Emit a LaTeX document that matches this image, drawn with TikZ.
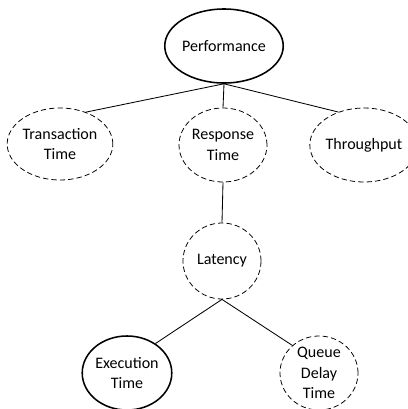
\documentclass[tikz,border=0pt]{standalone}
\usepackage{fontspec}
\setmainfont{Carlito}
\usepackage{tikz}
\usetikzlibrary{shapes.geometric}

\begin{document}
\begin{tikzpicture}[x=0.025cm, y=-0.025cm,
  % solid outlined ellipses
  solidnode/.style={draw, ellipse, line width=1.1pt, inner sep=0pt,
                    align=center, font=\fontsize{11.4}{14.5}\selectfont},
  % dashed outlined ellipses
  dashnode/.style={draw, ellipse, dashed, dash pattern=on 3.8pt off 2.2pt,
                   line width=0.55pt, inner sep=0pt,
                   align=center, font=\fontsize{11.4}{14.5}\selectfont},
  link/.style={line width=0.6pt}
]
  \useasboundingbox (0,0) rectangle (408,409);

  % Top level
  \node[solidnode, minimum width=2.9cm, minimum height=1.85cm] (perf) at (224,46) {Performance};

  % Second level
  \node[dashnode, minimum width=2.4cm, minimum height=1.8cm] (trans) at (60,144) {Transaction\\Time};
  \node[dashnode, minimum width=2.0cm, minimum height=1.85cm] (resp) at (223,145) {Response\\Time};
  \node[dashnode, minimum width=2.25cm, minimum height=1.85cm] (thru) at (364,145) {Throughput};

  % Third level
  \node[dashnode, minimum width=1.95cm, minimum height=1.9cm] (lat) at (222,261) {Latency};

  % Bottom level
  \node[solidnode, minimum width=1.95cm, minimum height=1.85cm] (exec) at (127,373) {Execution\\Time};
  \node[dashnode, minimum width=1.95cm, minimum height=1.85cm] (queue) at (319,373) {Queue\\Delay\\Time};

  % Connectors
  \draw[link] (perf.south) -- (trans.51);
  \draw[link] (perf.south) -- (resp.north);
  \draw[link] (perf.south) -- (thru.128);
  \draw[link] (resp.south) -- (lat.north);
  \draw[link] (lat.south) -- (exec.46);
  \draw[link] (lat.south) -- (queue.134);

\end{tikzpicture}
\end{document}
